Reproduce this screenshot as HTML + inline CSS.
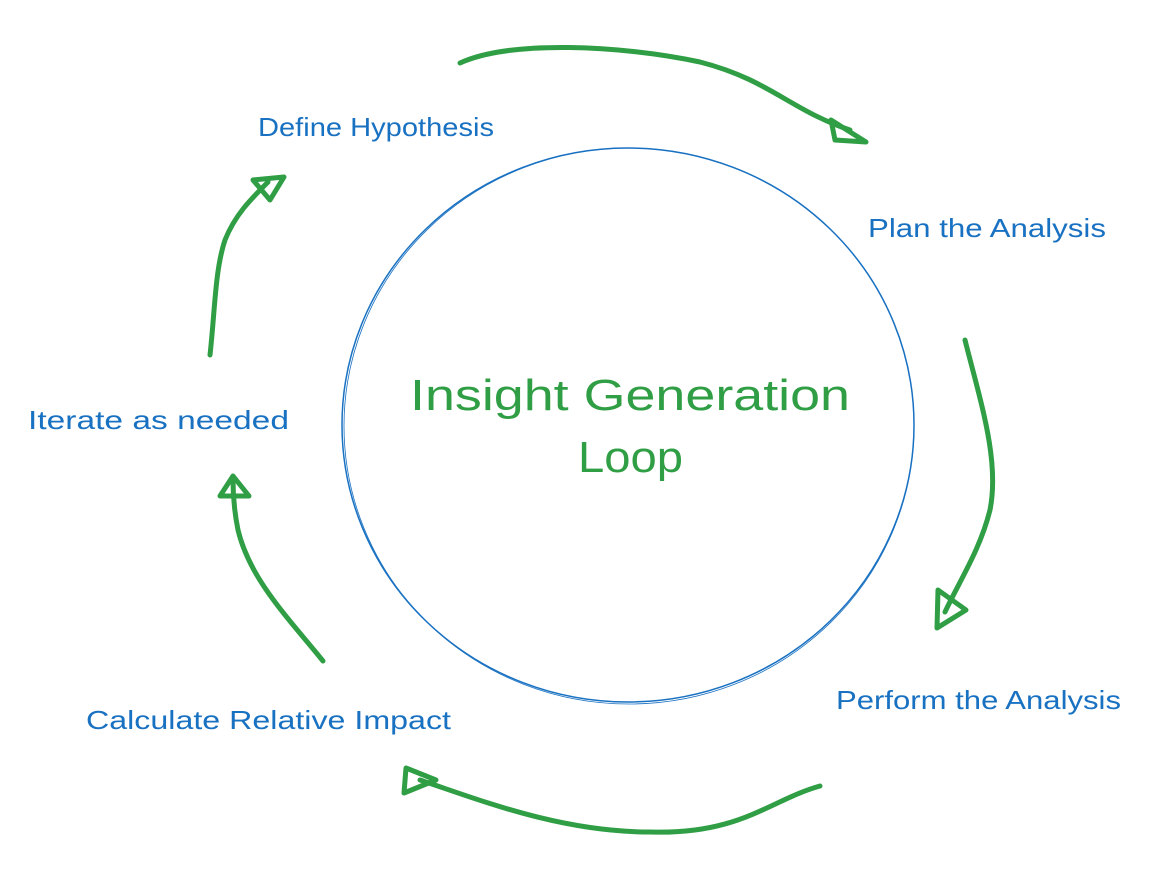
<!DOCTYPE html>
<html><head><meta charset="utf-8"><style>
html,body{margin:0;padding:0;background:#fff;}
body{width:1170px;height:878px;position:relative;overflow:hidden;}
svg{position:absolute;left:0;top:0;}
text{font-family:"Liberation Sans",sans-serif;}
</style></head><body>
<svg width="1170" height="878" viewBox="0 0 1170 878">
<ellipse cx="628" cy="425" rx="286" ry="277" fill="none" stroke="#1971c2" stroke-width="1.5"/>
<ellipse cx="629" cy="426" rx="285" ry="278" fill="none" stroke="#1971c2" stroke-width="0.8"/>
<g fill="none" stroke="#2f9e44" stroke-width="5" stroke-linecap="round" stroke-linejoin="round">
<path d="M460 63 C510 40 620 45 700 62 C770 80 790 110 850 130"/>
<path d="M831 120 L866 142 L835 140 Z"/>
<path d="M965 340 C980 400 1000 460 990 510 C980 550 960 580 945 612"/>
<path d="M938 590 L966 610 L937 628 Z"/>
<path d="M820 786 C770 800 740 835 650 832 C560 832 480 800 420 780"/>
<path d="M406 768 L436 780 L404 793 Z"/>
<path d="M323 661 C290 620 250 580 238 530 C234 510 233 495 233 480"/>
<path d="M220 496 L233 476 L249 496 Z"/>
<path d="M210 355 C215 310 215 270 225 240 C235 215 250 200 268 182"/>
<path d="M253 180 L284 177 L270 200 Z"/>
</g>
<g fill="#1971c2" font-size="26">
<text x="258" y="136" textLength="236" lengthAdjust="spacingAndGlyphs">Define Hypothesis</text>
<text x="868" y="237" textLength="238" lengthAdjust="spacingAndGlyphs">Plan the Analysis</text>
<text x="28" y="429" textLength="261" lengthAdjust="spacingAndGlyphs">Iterate as needed</text>
<text x="836" y="709" textLength="285" lengthAdjust="spacingAndGlyphs">Perform the Analysis</text>
<text x="86" y="729" textLength="365" lengthAdjust="spacingAndGlyphs">Calculate Relative Impact</text>
</g>
<g fill="#2f9e44" font-size="44">
<text x="410" y="410" textLength="440" lengthAdjust="spacingAndGlyphs">Insight Generation</text>
<text x="578" y="472" textLength="105" lengthAdjust="spacingAndGlyphs">Loop</text>
</g>
</svg>
</body></html>
